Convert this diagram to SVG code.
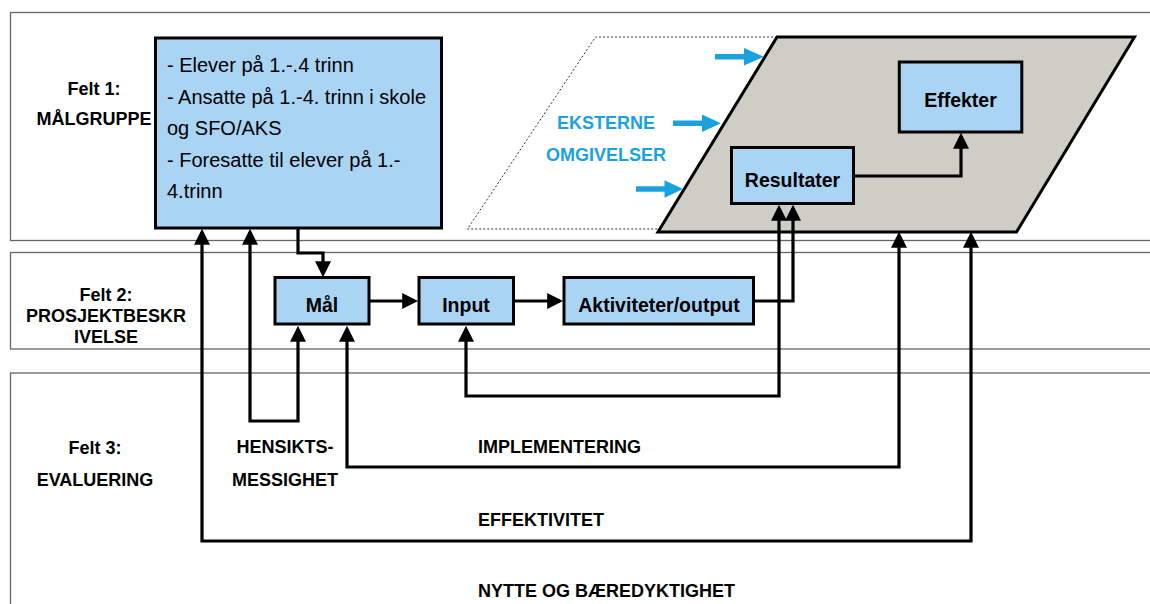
<svg xmlns="http://www.w3.org/2000/svg" width="1150" height="604" viewBox="0 0 1150 604">
<style>
text{font-family:"Liberation Sans",Arial,sans-serif;fill:#000}
.lbl{font-size:18px;font-weight:bold}
.box{fill:#A9D4F4;stroke:#000;stroke-width:3}
.bl{font-size:19.5px;font-weight:bold;text-anchor:middle}
.tx{font-size:20px}
.felt{fill:#fff;stroke:#666;stroke-width:1.3}
.con{fill:none;stroke:#000;stroke-width:3.2;stroke-linejoin:miter}
.ext{fill:#1AA2DE}
</style>
<defs>
<marker id="ah" markerUnits="userSpaceOnUse" markerWidth="16" markerHeight="16" refX="12" refY="7.5" orient="auto-start-reverse" viewBox="0 0 15 15">
<path d="M0,0 L15,7.5 L0,15 z" fill="#000"/>
</marker>
</defs>
<g id="felt1"><rect class="felt" x="10.5" y="12.5" width="1160" height="228"/>
<text class="lbl" x="94" y="95" text-anchor="middle">Felt 1:</text>
<text class="lbl" x="94" y="125" text-anchor="middle">MÅLGRUPPE</text></g>
<g id="felt2"><rect class="felt" x="10.5" y="252.5" width="1160" height="96.5"/>
<text class="lbl" x="106" y="301" text-anchor="middle">Felt 2:</text>
<text class="lbl" x="106" y="322" text-anchor="middle">PROSJEKTBESKR</text>
<text class="lbl" x="106" y="343" text-anchor="middle">IVELSE</text></g>
<g id="felt3"><rect class="felt" x="10.5" y="373" width="1160" height="260"/>
<text class="lbl" x="95" y="454" text-anchor="middle">Felt 3:</text>
<text class="lbl" x="95" y="486" text-anchor="middle">EVALUERING</text></g>
<g id="omgivelser">
<polyline points="777,37 595.5,37 467.5,229 662,229" fill="none" stroke="#333" stroke-width="1" stroke-dasharray="2,2"/>
<polygon points="777,37 1134.5,37 1016.5,232 658,232" fill="#CFCEC6" stroke="#000" stroke-width="3"/>
<text class="lbl" x="606" y="129" text-anchor="middle" style="fill:#1AA2DE">EKSTERNE</text>
<text class="lbl" x="606" y="161" text-anchor="middle" style="fill:#1AA2DE">OMGIVELSER</text>
<polygon class="ext" points="715,54 744,54 744,48 764,56.7 744,65.5 744,59.5 715,59.5"/>
<polygon class="ext" points="673,120.5 702,120.5 702,114.5 721,123.3 702,132 702,126 673,126"/>
<polygon class="ext" points="636,186.3 664.5,186.3 664.5,180.3 683,189 664.5,197.7 664.5,191.7 636,191.7"/>
</g>
<g id="malgruppe"><rect class="box" x="155.5" y="38" width="286" height="190"/>
<text class="tx" x="167" y="72">- Elever på 1.-.4 trinn</text>
<text class="tx" x="167" y="103.5">- Ansatte på 1.-4. trinn i skole</text>
<text class="tx" x="167" y="135">og SFO/AKS</text>
<text class="tx" x="167" y="166.5">- Foresatte til elever på 1.-</text>
<text class="tx" x="167" y="198">4.trinn</text></g>
<g id="mal"><rect class="box" x="275" y="277.5" width="94" height="46.5"/><text class="bl" x="322" y="311.5">Mål</text></g>
<g id="input"><rect class="box" x="419" y="277.5" width="94.5" height="46.5"/><text class="bl" x="466" y="311.5">Input</text></g>
<g id="aktiviteter"><rect class="box" x="564" y="277.5" width="189.5" height="46.5"/><text class="bl" x="659" y="311.5">Aktiviteter/output</text></g>
<g id="resultater"><rect class="box" x="731.5" y="147.5" width="122" height="56"/><text class="bl" x="792.5" y="187">Resultater</text></g>
<g id="effekter"><rect class="box" x="899.3" y="62" width="122.5" height="70"/><text class="bl" x="960.5" y="107">Effekter</text></g>
<g id="connectors">
<path class="con" d="M298,229 V253 H323 V274" marker-end="url(#ah)"/>
<path class="con" d="M370,301 H415" marker-end="url(#ah)"/>
<path class="con" d="M514,301 H560" marker-end="url(#ah)"/>
<path class="con" d="M755,301 H793 V208" marker-end="url(#ah)"/>
<path class="con" d="M466,329 V396 H779 V208" marker-start="url(#ah)" marker-end="url(#ah)"/>
<path class="con" d="M250,232 V421 H298 V329" marker-start="url(#ah)" marker-end="url(#ah)"/>
<path class="con" d="M347,329 V467 H899 V235" marker-start="url(#ah)" marker-end="url(#ah)"/>
<path class="con" d="M202,232 V541 H971 V235" marker-start="url(#ah)" marker-end="url(#ah)"/>
<path class="con" d="M855,176 H961 V136" marker-end="url(#ah)"/>
</g>
<g id="labels">
<text class="lbl" x="285" y="453" text-anchor="middle">HENSIKTS-</text>
<text class="lbl" x="285" y="486" text-anchor="middle">MESSIGHET</text>
<text class="lbl" x="478" y="453">IMPLEMENTERING</text>
<text class="lbl" x="478" y="526">EFFEKTIVITET</text>
<text class="lbl" x="478" y="597">NYTTE OG BÆREDYKTIGHET</text>
</g>
</svg>
